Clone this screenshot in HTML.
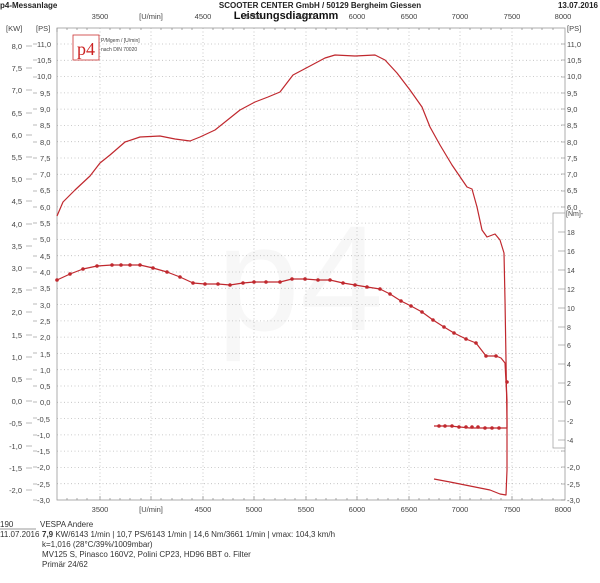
<!DOCTYPE html>
<html><head><style>
body{margin:0;background:#fff;}
svg{display:block;font-family:"Liberation Sans",sans-serif;}
</style></head><body>
<svg width="600" height="583" viewBox="0 0 600 583" xmlns="http://www.w3.org/2000/svg">
<text x="0" y="8" font-size="8" font-weight="bold" fill="#222">p4-Messanlage</text>
<text x="320" y="8" font-size="8" font-weight="bold" fill="#222" text-anchor="middle">SCOOTER CENTER GmbH / 50129 Bergheim Giessen</text>
<text x="598" y="8" font-size="8" font-weight="bold" fill="#222" text-anchor="end">13.07.2016</text>
<text x="286" y="19" font-size="11" font-weight="bold" fill="#111" text-anchor="middle">Leistungsdiagramm</text>
<!-- watermark -->
<text x="300" y="330" font-size="150" fill="#f7f7f7" text-anchor="middle" font-family="Liberation Sans,sans-serif">p4</text>
<g stroke="#bbb" stroke-width="0.8" stroke-dasharray="1,2.5" fill="none">
<path d="M100,28V500M151,28V500M203,28V500M254,28V500M306,28V500M357,28V500M409,28V500M460,28V500M512,28V500"/>
<path d="M57,44H565M57,60.3H565M57,76.6H565M57,92.9H565M57,109.1H565M57,125.4H565M57,141.7H565M57,158H565M57,174.3H565M57,190.6H565M57,206.9H565M57,223.1H565M57,239.4H565M57,255.7H565M57,272H565M57,288.3H565M57,304.6H565M57,320.9H565M57,337.1H565M57,353.4H565M57,369.7H565M57,386H565M57,402.3H565M57,418.6H565M57,434.9H565M57,451.1H565M57,467.4H565M57,483.7H565"/>
</g>
<rect x="57" y="28" width="508" height="472" fill="none" stroke="#999" stroke-width="0.8"/>
<g stroke="#888" stroke-width="0.7">
<path d="M57,28v4M67,28v2M77,28v2M87,28v2M110,28v2M120,28v2M130,28v2M141,28v2M161,28v2M172,28v2M182,28v2M192,28v2M213,28v2M223,28v2M233,28v2M244,28v2M264,28v2M275,28v2M285,28v2M295,28v2M316,28v2M326,28v2M336,28v2M347,28v2M367,28v2M378,28v2M388,28v2M398,28v2M419,28v2M429,28v2M439,28v2M450,28v2M470,28v2M481,28v2M491,28v2M501,28v2M522,28v2M532,28v2M542,28v2M553,28v2"/>
<path d="M67,500v-2M77,500v-2M87,500v-2M100,500v-4M110,500v-2M120,500v-2M130,500v-2M141,500v-2M151,500v-4M161,500v-2M172,500v-2M182,500v-2M192,500v-2M203,500v-4M213,500v-2M223,500v-2M233,500v-2M244,500v-2M254,500v-4M264,500v-2M275,500v-2M285,500v-2M295,500v-2M306,500v-4M316,500v-2M326,500v-2M336,500v-2M347,500v-2M357,500v-4M367,500v-2M378,500v-2M388,500v-2M398,500v-2M409,500v-4M419,500v-2M429,500v-2M439,500v-2M450,500v-2M460,500v-4M470,500v-2M481,500v-2M491,500v-2M501,500v-2M512,500v-4M522,500v-2M532,500v-2M542,500v-2M553,500v-2"/>
</g>
<g font-size="7.5" fill="#444" text-anchor="middle">
<text x="100" y="19">3500</text><text x="151" y="19">[U/min]</text><text x="203" y="19">4500</text><text x="254" y="19">5000</text><text x="306" y="19">5500</text><text x="357" y="19">6000</text><text x="409" y="19">6500</text><text x="460" y="19">7000</text><text x="512" y="19">7500</text><text x="563" y="19">8000</text>
<text x="100" y="512">3500</text><text x="151" y="512">[U/min]</text><text x="203" y="512">4500</text><text x="254" y="512">5000</text><text x="306" y="512">5500</text><text x="357" y="512">6000</text><text x="409" y="512">6500</text><text x="460" y="512">7000</text><text x="512" y="512">7500</text><text x="563" y="512">8000</text>
</g>
<g font-size="7.5" fill="#444">
<text x="6" y="31">[KW]</text><text x="36" y="31">[PS]</text>
<text x="567" y="31">[PS]</text>
</g>
<rect x="73" y="35" width="26" height="25" fill="#fff" stroke="#c33" stroke-width="0.8"/>
<text x="86" y="55" font-size="18" fill="#c22" text-anchor="middle" font-family="Liberation Serif,serif">p4</text>
<text x="101" y="42" font-size="5" fill="#444">P/Mgem / [U/min]</text>
<text x="101" y="51" font-size="5" fill="#444">nach DIN 70020</text>
<g fill="none" stroke="#c0282e" stroke-width="1.2" stroke-linejoin="round">
<path d="M57,216L63,202L75,190L90,176L100,163L110,155L125,142L140,137L160,136L175,139L190,141L200,137L215,130L230,118L240,110L255,102L268,97L280,92L293,75L310,66L325,58L335,55L355,56L375,55L385,60L397,73L410,90L422,107L430,127L440,145L452,165L467,187L472,189L477,207L482,230L487,237L495,234L500,240L504,253L505,300L506,360L507,420L507,470L506,495L500,494L490,490L470,486L450,482L434,479"/>
<path d="M57,280L70,274L83,269L97,266L112,265L130,265L140,265L153,268L167,272L180,277L193,283L205,284L218,284L230,285L243,283L254,282L266,282L280,282L292,279L305,279L318,280L330,280L343,283L355,285L367,287L380,289L390,294L401,301L411,306L422,312L433,320L444,327L454,333L466,339L476,343L486,356L496,356L501,358L505,363L506,382L507,400L507,428L490,428L470,428L450,426L434,426"/>
</g>
<g fill="#c0282e">
<circle cx="57" cy="280" r="1.8"/><circle cx="70" cy="274" r="1.8"/><circle cx="83" cy="269" r="1.8"/><circle cx="97" cy="266" r="1.8"/><circle cx="112" cy="265" r="1.8"/><circle cx="121" cy="265" r="1.8"/><circle cx="130" cy="265" r="1.8"/><circle cx="140" cy="265" r="1.8"/><circle cx="153" cy="268" r="1.8"/><circle cx="167" cy="272" r="1.8"/><circle cx="180" cy="277" r="1.8"/><circle cx="193" cy="283" r="1.8"/><circle cx="205" cy="284" r="1.8"/><circle cx="218" cy="284" r="1.8"/><circle cx="230" cy="285" r="1.8"/><circle cx="243" cy="283" r="1.8"/><circle cx="254" cy="282" r="1.8"/><circle cx="266" cy="282" r="1.8"/><circle cx="280" cy="282" r="1.8"/><circle cx="292" cy="279" r="1.8"/><circle cx="305" cy="279" r="1.8"/><circle cx="318" cy="280" r="1.8"/><circle cx="330" cy="280" r="1.8"/><circle cx="343" cy="283" r="1.8"/><circle cx="355" cy="285" r="1.8"/><circle cx="367" cy="287" r="1.8"/><circle cx="380" cy="289" r="1.8"/><circle cx="390" cy="294" r="1.8"/><circle cx="401" cy="301" r="1.8"/><circle cx="411" cy="306" r="1.8"/><circle cx="422" cy="312" r="1.8"/><circle cx="433" cy="320" r="1.8"/><circle cx="444" cy="327" r="1.8"/><circle cx="454" cy="333" r="1.8"/><circle cx="466" cy="339" r="1.8"/><circle cx="476" cy="343" r="1.8"/><circle cx="486" cy="356" r="1.8"/><circle cx="496" cy="356" r="1.8"/><circle cx="507" cy="382" r="1.8"/>
<circle cx="439" cy="426" r="1.8"/><circle cx="445" cy="426" r="1.8"/><circle cx="452" cy="426" r="1.8"/><circle cx="459" cy="427" r="1.8"/><circle cx="466" cy="427" r="1.8"/><circle cx="472" cy="427" r="1.8"/><circle cx="478" cy="427" r="1.8"/><circle cx="485" cy="428" r="1.8"/><circle cx="492" cy="428" r="1.8"/><circle cx="499" cy="428" r="1.8"/>
</g>
<!-- Nm axis -->
<rect x="553" y="213" width="12" height="235" fill="#fff" stroke="#999" stroke-width="0.7"/>
<text x="566" y="216" font-size="7" fill="#444">[Nm]-</text>
<g font-size="8" fill="#333">
<text x="0" y="527">190</text>
<text x="40" y="527">VESPA Andere</text>
<text x="0" y="537">11.07.2016</text>
<text x="42" y="537"><tspan font-weight="bold">7,9</tspan> KW/6143 1/min  |  10,7 PS/6143 1/min  |  14,6 Nm/3661 1/min | vmax: 104,3 km/h</text>
<text x="42" y="547">k=1,016 (28°C/39%/1009mbar)</text>
<text x="42" y="557">MV125 S, Pinasco 160V2, Polini CP23, HD96 BBT o. Filter</text>
<text x="42" y="567">Primär 24/62</text>
</g>
<line x1="0" y1="529" x2="36" y2="529" stroke="#333" stroke-width="0.6"/>
<g font-size="7.5" fill="#444">
<text x="37" y="47">11,0</text><text x="37" y="63">10,5</text><text x="37" y="79">10,0</text><text x="40" y="96">9,5</text><text x="40" y="112">9,0</text><text x="40" y="128">8,5</text><text x="40" y="145">8,0</text><text x="40" y="161">7,5</text><text x="40" y="177">7,0</text><text x="40" y="193">6,5</text><text x="40" y="210">6,0</text><text x="40" y="226">5,5</text><text x="40" y="242">5,0</text><text x="40" y="259">4,5</text>
<text x="40" y="275">4,0</text><text x="40" y="291">3,5</text><text x="40" y="308">3,0</text><text x="40" y="324">2,5</text><text x="40" y="340">2,0</text><text x="40" y="357">1,5</text><text x="40" y="373">1,0</text><text x="40" y="389">0,5</text><text x="40" y="405">0,0</text><text x="37" y="422">-0,5</text><text x="37" y="438">-1,0</text><text x="37" y="454">-1,5</text><text x="37" y="470">-2,0</text><text x="37" y="487">-2,5</text><text x="37" y="503">-3,0</text>
<text x="567" y="47">11,0</text><text x="567" y="63">10,5</text><text x="567" y="79">10,0</text><text x="567" y="96">9,5</text><text x="567" y="112">9,0</text><text x="567" y="128">8,5</text><text x="567" y="145">8,0</text><text x="567" y="161">7,5</text><text x="567" y="177">7,0</text><text x="567" y="193">6,5</text><text x="567" y="210">6,0</text>
<text x="567" y="470">-2,0</text><text x="567" y="487">-2,5</text><text x="567" y="503">-3,0</text>
</g>
<g font-size="7.5" fill="#444" text-anchor="end">
<text x="22" y="49">8,0</text><text x="22" y="71">7,5</text><text x="22" y="93">7,0</text><text x="22" y="116">6,5</text><text x="22" y="138">6,0</text><text x="22" y="160">5,5</text><text x="22" y="182">5,0</text><text x="22" y="204">4,5</text><text x="22" y="227">4,0</text><text x="22" y="249">3,5</text><text x="22" y="271">3,0</text><text x="22" y="293">2,5</text><text x="22" y="315">2,0</text><text x="22" y="338">1,5</text><text x="22" y="360">1,0</text><text x="22" y="382">0,5</text><text x="22" y="404">0,0</text><text x="22" y="426">-0,5</text><text x="22" y="449">-1,0</text><text x="22" y="471">-1,5</text><text x="22" y="493">-2,0</text>
</g>
<g stroke="#777" stroke-width="0.6">
<path d="M26,46h6M26,68h6M26,90h6M26,113h6M26,135h6M26,157h6M26,179h6M26,201h6M26,224h6M26,246h6M26,268h6M26,290h6M26,312h6M26,335h6M26,357h6M26,379h6M26,401h6M26,423h6M26,446h6M26,468h6M26,490h6"/>
<path d="M33,44h4M33,60h4M33,77h4M33,93h4M33,109h4M33,125h4M33,142h4M33,158h4M33,174h4M33,191h4M33,207h4M33,223h4M33,239h4M33,256h4M33,272h4M33,288h4M33,304h4M33,321h4M33,337h4M33,353h4M33,370h4M33,386h4M33,402h4M33,418h4M33,435h4M33,451h4M33,467h4M33,484h4M33,500h4"/>
<path d="M561,44h4M561,60h4M561,77h4M561,93h4M561,109h4M561,125h4M561,142h4M561,158h4M561,174h4M561,191h4M561,207h4M561,451h4M561,467h4M561,484h4M561,500h4"/>
<path d="M558,232h7M558,251h7M558,270h7M558,289h7M558,308h7M558,327h7M558,345h7M558,364h7M558,383h7M558,402h7M558,421h7M558,440h7"/>
</g>
<g font-size="7" fill="#444">
<text x="567" y="235">18</text><text x="567" y="254">16</text><text x="567" y="273">14</text><text x="567" y="292">12</text><text x="567" y="311">10</text><text x="567" y="330">8</text><text x="567" y="348">6</text><text x="567" y="367">4</text><text x="567" y="386">2</text><text x="567" y="405">0</text><text x="567" y="424">-2</text><text x="567" y="443">-4</text>
</g>
</svg>
</body></html>
